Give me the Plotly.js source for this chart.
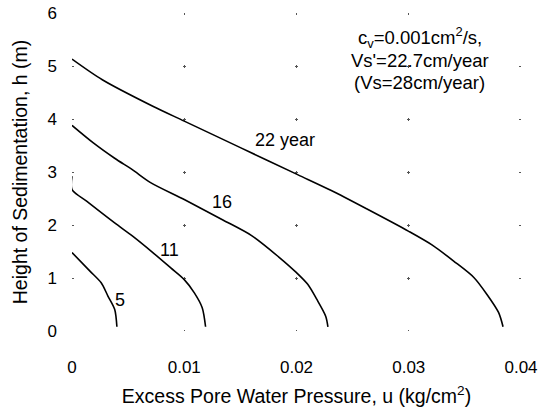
<!DOCTYPE html>
<html>
<head>
<meta charset="utf-8">
<script src="https://cdn.plot.ly/plotly-3.0.1.min.js"></script>
<style>
  html, body { margin: 0; padding: 0; background: #fff; }
  #chart { width: 545px; height: 411px; }
</style>
</head>
<body>
<div id="chart"></div>
<script>
// Excess pore water pressure u (kg/cm^2) vs height of sedimentation h (m)
const u22 = [0, 0.0027, 0.0072, 0.0100, 0.0150, 0.0201, 0.0231, 0.0262, 0.0300, 0.0321, 0.0340, 0.0358, 0.0370, 0.0380, 0.0384];
const h22 = [5.13, 4.74, 4.24, 3.96, 3.46, 2.95, 2.65, 2.31, 1.88, 1.62, 1.32, 1.01, 0.68, 0.35, 0.08];

const u16 = [0, 0.0019, 0.0038, 0.0054, 0.0070, 0.0100, 0.0134, 0.0160, 0.0184, 0.0200, 0.0210, 0.0218, 0.0226, 0.0228];
const h16 = [3.88, 3.55, 3.26, 3.04, 2.80, 2.48, 2.10, 1.80, 1.40, 1.10, 0.88, 0.60, 0.28, 0.08];

const u11 = [0, 0, 0.0013, 0.0038, 0.0054, 0.0072, 0.0088, 0.0100, 0.0109, 0.0116, 0.0119];
const h11 = [2.92, 2.67, 2.45, 2.04, 1.79, 1.48, 1.19, 0.97, 0.72, 0.44, 0.08];

const u5 = [0, 0.0016, 0.0026, 0.0032, 0.0038, 0.0040];
const h5 = [1.48, 1.13, 0.91, 0.66, 0.41, 0.08];

const curveLabels = ['22 year', '16', '11', '5'];
const labelU = [0.0190, 0.0134, 0.0087, 0.0043];
const labelH = [3.61, 2.44, 1.53, 0.58];

const xTickVals = [0, 0.01, 0.02, 0.03, 0.04];
const xTickText = ['0', '0.01', '0.02', '0.03', '0.04'];
const yTickVals = [0, 1, 2, 3, 4, 5, 6];

const noteLines = ['c<sub>v</sub>=0.001cm<sup>2</sup>/s,', "Vs'=22.7cm/year", '(Vs=28cm/year)'];
const noteU = 0.0310;
const noteH = [5.53, 5.10, 4.69];

const FONT = 'Liberation Sans, Arial, Helvetica, sans-serif';
const lineStyle = {color: '#000', width: 1.6};

const series = [[u22, h22], [u16, h16], [u11, h11], [u5, h5]];
const traces = series.map(([u, h]) => ({
  x: u, y: h, type: 'scatter', mode: 'lines',
  line: Object.assign({shape: 'spline', smoothing: 0.8}, lineStyle),
  hoverinfo: 'skip', showlegend: false
}));

const annotations = curveLabels.map((t, i) => ({
  x: labelU[i], y: labelH[i], xref: 'x', yref: 'y', text: t,
  showarrow: false, font: {family: FONT, size: 18, color: '#000'}
})).concat(noteLines.map((t, i) => ({
  x: noteU, y: noteH[i], xref: 'x', yref: 'y', text: t,
  showarrow: false, font: {family: FONT, size: 18.5, color: '#000'}
})));

const layout = {
  width: 545, height: 411,
  margin: {l: 72, r: 24, t: 13, b: 80},
  paper_bgcolor: '#fff', plot_bgcolor: '#fff',
  font: {family: FONT, size: 17, color: '#000'},
  showlegend: false,
  xaxis: {
    range: [0, 0.04], tickvals: xTickVals, ticktext: xTickText,
    showgrid: true, gridcolor: '#555', gridwidth: 1,
    griddash: '1.5px,50px,1.5px,0px',
    zeroline: false, showline: false, ticks: '',
    ticklabelstandoff: 24,
    tickfont: {family: FONT, size: 17, color: '#000'},
    title: {text: 'Excess Pore Water Pressure, u (kg/cm<sup>2</sup>)',
            font: {family: FONT, size: 19.5, color: '#000'}, standoff: 13}
  },
  yaxis: {
    range: [0, 6], tickvals: yTickVals,
    showgrid: true, gridcolor: '#555', gridwidth: 1,
    griddash: '1.5px,109px,1.5px,0px',
    zeroline: false, showline: false, ticks: '',
    ticklabelstandoff: 14,
    tickfont: {family: FONT, size: 17, color: '#000'},
    title: {text: 'Height of Sedimentation, h (m)',
            font: {family: FONT, size: 19.5, color: '#000'}, standoff: 14}
  },
  annotations: annotations
};

Plotly.newPlot('chart', traces, layout, {staticPlot: true, displayModeBar: false});
</script>
</body>
</html>
